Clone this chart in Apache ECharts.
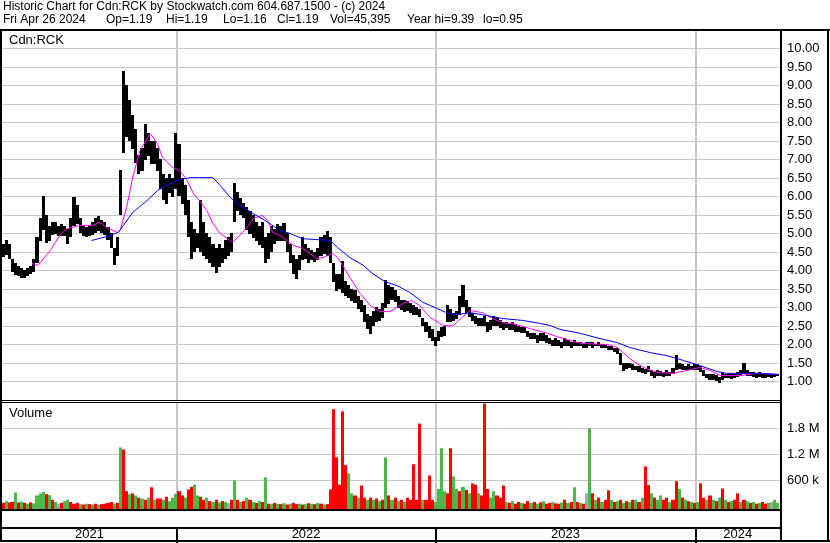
<!DOCTYPE html>
<html><head><meta charset="utf-8">
<script src="https://cdn.jsdelivr.net/npm/echarts@6/dist/echarts.min.js"></script>
<style>html,body{margin:0;padding:0;background:#fff}#c{width:830px;height:543px}</style>
</head><body><div id="c"></div><script>
// ---------- DATA ----------
const N_DAYS = 756;           // trading days shown
const STEP = 3;               // days per sampled bar
const yearStarts = [170, 421, 674];
const yearLabels = ['2021', '2022', '2023', '2024'];

const headerTitle = 'Historic Chart for Cdn:RCK by Stockwatch.com 604.687.1500 - (c) 2024';
const headerFields = ['Fri Apr 26 2024', 'Op=1.19', 'Hi=1.19', 'Lo=1.16', 'Cl=1.19', 'Vol=45,395', 'Year hi=9.39', 'lo=0.95'];

const priceHigh = [
 4.7,4.8,4.7,4.3,4.2,4.1,4.05,4.0,4.05,4.1,
 4.3,4.9,5.4,6.0,5.5,5.2,5.3,5.3,5.2,5.25,
 5.2,5.1,5.4,5.97,5.75,5.4,5.2,5.15,5.2,5.3,
 5.4,5.45,5.35,5.3,5.15,5.0,4.6,4.9,6.7,9.39,
 9.0,8.6,8.2,7.8,7.1,7.3,7.95,7.7,7.5,7.5,
 7.3,7.0,6.6,6.5,6.6,6.5,7.7,7.4,6.5,6.3,
 5.9,5.3,5.1,5.0,5.9,5.3,5.0,4.9,4.7,4.6,
 4.7,4.6,4.8,4.9,5.0,6.35,6.1,5.95,5.8,5.7,
 5.6,5.5,5.3,5.2,5.3,4.9,5.0,5.2,5.1,5.25,
 5.2,5.28,5.0,4.7,4.4,4.3,4.4,4.9,4.7,4.6,
 4.55,4.5,4.6,4.9,4.95,5.05,4.9,4.2,3.9,3.9,
 4.25,3.7,3.6,3.5,3.45,3.3,3.2,3.05,2.8,2.75,
 2.9,3.0,2.95,3.1,3.73,3.6,3.55,3.45,3.3,3.2,
 3.2,3.15,3.1,3.05,3.0,2.95,2.7,2.6,2.5,2.4,
 2.2,2.35,2.45,2.5,3.05,2.95,2.85,2.9,3.3,3.59,
 3.2,3.0,2.85,2.75,2.7,2.7,2.75,2.6,2.65,2.75,
 2.7,2.65,2.6,2.6,2.55,2.6,2.55,2.5,2.45,2.45,
 2.35,2.3,2.3,2.25,2.3,2.3,2.25,2.15,2.1,2.15,
 2.1,2.05,2.15,2.1,2.05,2.1,2.05,2.05,2.0,2.05,
 2.05,2.05,2.0,2.05,2.0,2.0,1.95,1.95,1.9,1.9,
 1.75,1.5,1.5,1.48,1.45,1.4,1.4,1.35,1.32,1.4,
 1.3,1.25,1.3,1.28,1.25,1.3,1.25,1.35,1.7,1.5,
 1.45,1.4,1.45,1.4,1.45,1.45,1.4,1.3,1.2,1.2,
 1.2,1.15,1.1,1.25,1.2,1.22,1.2,1.2,1.25,1.3,
 1.49,1.3,1.25,1.25,1.22,1.25,1.2,1.22,1.2,1.2,1.2,1.19
];
const priceLow = [
 4.35,4.4,4.3,3.95,3.9,3.85,3.8,3.8,3.85,3.9,
 3.95,4.2,4.8,5.1,4.75,4.8,4.95,5.0,4.95,4.95,
 4.95,4.7,4.9,5.2,5.25,5.0,4.95,4.9,4.95,4.95,
 5.0,5.05,5.0,4.95,4.8,4.6,4.15,4.4,5.5,7.2,
 7.6,7.5,7.3,6.9,6.6,6.7,7.0,7.1,6.9,6.9,
 6.7,6.2,5.9,5.8,6.1,6.0,6.2,6.0,5.8,5.5,
 4.9,4.3,4.5,4.6,4.5,4.4,4.3,4.2,4.1,3.95,
 4.1,4.2,4.3,4.4,4.5,5.3,5.6,5.5,5.4,5.1,
 5.0,4.9,4.8,4.7,4.6,4.2,4.3,4.5,4.7,4.8,
 4.8,4.8,4.5,4.2,3.9,3.76,4.0,4.3,4.3,4.2,
 4.3,4.25,4.3,4.4,4.45,4.4,4.2,3.7,3.45,3.5,
 3.4,3.3,3.25,3.2,3.1,2.95,2.9,2.6,2.4,2.27,
 2.5,2.6,2.65,2.7,3.0,3.1,3.2,3.15,3.0,2.95,
 2.9,2.9,2.85,2.8,2.8,2.75,2.5,2.35,2.2,2.1,
 1.97,2.1,2.2,2.25,2.6,2.6,2.65,2.7,2.8,3.0,
 2.85,2.75,2.65,2.55,2.5,2.5,2.5,2.35,2.4,2.5,
 2.5,2.45,2.4,2.45,2.4,2.4,2.35,2.35,2.3,2.3,
 2.2,2.15,2.15,2.05,2.1,2.1,2.05,2.0,1.95,1.95,
 1.95,1.9,1.95,1.95,1.9,1.95,1.95,1.95,1.9,1.9,
 1.95,1.9,1.95,1.95,1.9,1.9,1.85,1.85,1.8,1.75,
 1.45,1.3,1.35,1.35,1.3,1.3,1.25,1.22,1.2,1.25,
 1.15,1.11,1.15,1.15,1.12,1.15,1.15,1.2,1.3,1.35,
 1.3,1.3,1.3,1.3,1.3,1.3,1.25,1.15,1.1,1.05,
 1.05,1.0,0.95,1.05,1.1,1.1,1.08,1.1,1.12,1.15,
 1.2,1.15,1.15,1.12,1.1,1.12,1.1,1.1,1.12,1.1,1.12,1.16
];
// volume in thousands of shares
const volume = [
 80,120,90,100,320,90,110,80,60,90,
 70,250,300,330,280,260,150,100,60,80,
 120,150,100,60,80,50,40,60,50,40,
 60,40,50,60,80,100,60,80,1360,1310,
 350,280,300,250,200,180,150,200,440,150,
 180,180,150,220,120,200,290,350,250,200,
 390,450,500,250,220,150,200,120,100,150,
 90,120,100,80,150,600,150,100,120,200,
 150,100,80,120,100,670,60,50,80,60,
 50,70,40,60,80,50,60,40,50,70,
 60,50,80,60,40,50,390,2240,1130,500,
 2190,950,760,300,250,200,480,200,150,200,
 150,180,120,150,1130,250,150,200,120,150,
 100,200,150,970,150,1910,150,150,710,150,
 100,400,1340,350,300,1340,690,400,350,450,
 380,300,530,500,300,250,2370,400,200,350,
 250,200,480,100,80,120,60,100,80,60,
 120,80,100,60,90,120,60,80,100,70,
 60,90,150,80,100,440,100,80,60,300,
 1800,300,150,200,100,150,370,150,100,120,
 150,80,120,100,150,150,100,200,920,490,
 300,200,150,250,150,200,100,150,580,400,
 200,150,120,100,80,100,530,200,150,250,
 150,120,200,410,150,100,120,150,300,100,
 150,120,80,100,60,80,100,60,80,100,150,80
];
// u = up day (green), d = down day (red), n = unchanged (grey)
const volDir =
 'duddududud uuuududund uudddududu duddddudud dududududu ' +
 'dduduuuddu dduuddudud udundududu dududududu dududdudud ' +
 'udududdddd dduududdud ududududud uddddduddd uuuudduudu ' +
 'dudduddduu dddududdud dudududdud dududududn udududdudu ' +
 'dududududd uduudduddu dudududdud ududududdu dudududdunuu';

const maFastDays = [29,35,47,56,63,76,88,95,102,112,115,121,127,134,144,151,156,166,173,180,186,192,199,205,212,219,224,231,238,244,253,258,263,270,283,292,299,306,312,321,326,331,338,348,358,367,377,390,398,406,416,429,438,447,455,467,477,487,500,513,530,542,562,588,598,610,620,630,639,652,666,678,688,698,717,734,755];
const maFastValues = [4.19,4.14,4.54,4.95,5.13,5.22,5.22,5.3,5.16,5.03,5.1,5.7,6.51,7.24,7.7,7.43,7.05,6.78,6.7,6.43,6.08,5.89,5.62,5.27,5.0,4.86,4.76,4.95,5.16,5.4,5.49,5.35,5.03,4.95,4.68,4.6,4.46,4.32,4.35,4.46,4.35,4.14,3.81,3.38,3.05,2.89,2.89,3.11,3.19,3.05,2.73,2.51,2.5,2.73,2.92,2.86,2.7,2.59,2.54,2.43,2.3,2.19,2.03,2.0,1.92,1.62,1.43,1.3,1.24,1.22,1.3,1.38,1.3,1.16,1.16,1.22,1.19];
const maSlowDays = [87,102,113,118,127,141,151,160,173,183,192,205,212,222,231,244,258,270,280,292,319,326,338,351,360,372,384,396,409,423,432,442,455,471,487,506,523,533,542,562,581,598,610,630,646,662,678,695,704,724,739,755];
const maSlowValues = [4.81,4.92,5.03,5.22,5.57,5.89,6.16,6.3,6.46,6.51,6.51,6.51,6.3,5.97,5.76,5.54,5.31,5.08,5.0,4.86,4.81,4.62,4.35,4.14,3.92,3.7,3.59,3.41,3.14,2.97,2.86,2.81,2.86,2.78,2.7,2.65,2.57,2.51,2.41,2.3,2.16,2.05,1.92,1.78,1.7,1.57,1.43,1.27,1.22,1.22,1.22,1.19];

const priceTickMin = 0.5, priceTickMax = 10.5, priceTickStep = 0.5;
const volTicks = [600000, 1200000, 1800000];
const volTickLabels = ['600 k', '1.2 M', '1.8 M'];
const VOL_MIN = -62000, VOL_MAX = 2384000;

// ---------- BUILD ----------
const FONT = '"Liberation Sans", Arial, sans-serif';
const GRID = '#c8c8c8';
const dirCode = { u: 1, d: -1, n: 0 };
const dirs = volDir.replace(/\s/g, '');
const priceData = priceHigh.map((h, i) => [i * STEP + 1, h, priceLow[i]]);
const volData = volume.map((v, i) => [i * STEP + 1, v * 1000, dirCode[dirs[i]]]);
const maFast = maFastDays.map((d, i) => [d, maFastValues[i]]);
const maSlow = maSlowDays.map((d, i) => [d, maSlowValues[i]]);
const bounds = [0].concat(yearStarts, [N_DAYS]);
const yearCenters = yearLabels.map((_, i) => (bounds[i] + bounds[i + 1]) / 2);
const volColors = { '1': '#4cb84c', '-1': '#ff0000', '0': '#a8a8a8' };

const txt = (s, x, y, fs) => ({ text: s, left: x, top: y, padding: 0,
  textStyle: { fontSize: fs || 13, fontWeight: 'normal', color: '#000', fontFamily: FONT } });
const fieldX = [3, 106, 166, 223, 277, 330, 407, 483];

const blackLine = (x1, y1, x2, y2, w) => ({ type: 'line', silent: true, z: 100,
  shape: { x1, y1, x2, y2 }, style: { stroke: '#000', lineWidth: w } });

const hiddenX = (g) => ({
  type: 'value', gridIndex: g, min: 0, max: N_DAYS,
  axisLine: { show: false }, axisLabel: { show: false },
  axisTick: { show: false, customValues: yearStarts },
  splitLine: { show: true, lineStyle: { color: GRID, width: 2 } }
});

// contiguous column for a sampled bar: from its own pixel to the next sample's pixel
const column = (api, d) => {
  const a = Math.round(api.coord([d - STEP / 2, 0])[0]);
  const b = Math.round(api.coord([d + STEP / 2, 0])[0]);
  return [a, Math.max(1, b - a)];
};

const chart = echarts.init(document.getElementById('c'), null, { renderer: 'canvas' });
chart.setOption({
  animation: false,
  backgroundColor: '#fff',
  title: [
    txt(headerTitle, 3, 1, 12),
    ...headerFields.map((s, i) => txt(s, fieldX[i], 14, 12)),
    txt('Cdn:RCK', 9, 34),
    txt('Volume', 9, 407)
  ],
  grid: [
    { left: 2, top: 30, width: 778, height: 370 },
    { left: 2, top: 403, width: 778, height: 106 },
    { left: 2, top: 511, width: 778, height: 16 },
    { left: 2, top: 528, width: 778, height: 13 }
  ],
  xAxis: [
    hiddenX(0),
    hiddenX(1),
    { type: 'value', gridIndex: 2, min: 0, max: N_DAYS, position: 'top',
      axisLine: { show: false }, axisLabel: { show: false }, splitLine: { show: false },
      axisTick: { show: true, inside: true, length: 16, customValues: yearStarts,
        lineStyle: { color: '#000', width: 2 } } },
    { type: 'value', gridIndex: 3, min: 0, max: N_DAYS, position: 'top',
      axisLine: { show: false }, splitLine: { show: false },
      axisTick: { show: true, inside: true, length: 13, customValues: yearStarts,
        lineStyle: { color: '#000', width: 2 } },
      axisLabel: { show: true, inside: true, margin: 0, customValues: yearCenters,
        formatter: v => yearLabels[yearCenters.indexOf(v)] || '',
        fontSize: 13, color: '#000', fontFamily: FONT } }
  ],
  yAxis: [
    { type: 'value', gridIndex: 0, position: 'right', min: priceTickMin, max: priceTickMax,
      interval: priceTickStep,
      axisLine: { show: false }, axisTick: { show: false },
      axisLabel: { formatter: v => v.toFixed(2), showMinLabel: false, showMaxLabel: false,
        margin: 7, fontSize: 13, color: '#000', fontFamily: FONT },
      splitLine: { show: true, lineStyle: { color: GRID, width: 1 } } },
    { type: 'value', gridIndex: 1, position: 'right', min: VOL_MIN, max: VOL_MAX,
      axisLine: { show: false },
      axisTick: { show: false, customValues: volTicks },
      axisLabel: { customValues: volTicks, formatter: v => volTickLabels[volTicks.indexOf(v)] || '',
        margin: 7, fontSize: 13, color: '#000', fontFamily: FONT },
      splitLine: { show: true, lineStyle: { color: GRID, width: 1 } } },
    { type: 'value', gridIndex: 2, show: false },
    { type: 'value', gridIndex: 3, show: false }
  ],
  series: [
    { type: 'custom', name: 'Price', xAxisIndex: 0, yAxisIndex: 0, z: 3,
      data: priceData, encode: { x: 0, y: [1, 2] },
      renderItem: (params, api) => {
        const d = api.value(0);
        const [x, w] = column(api, d);
        const y1 = api.coord([d, api.value(1)])[1];
        const y2 = api.coord([d, api.value(2)])[1];
        return { type: 'rect',
          shape: { x, y: Math.floor(y1), width: w, height: Math.max(1, Math.ceil(y2 - y1)) },
          style: { fill: '#000' } };
      } },
    { type: 'line', name: 'MA fast', xAxisIndex: 0, yAxisIndex: 0, z: 4, data: maFast,
      showSymbol: false, symbol: 'none', lineStyle: { color: '#ff00ff', width: 1 } },
    { type: 'line', name: 'MA slow', xAxisIndex: 0, yAxisIndex: 0, z: 4, data: maSlow,
      showSymbol: false, symbol: 'none', lineStyle: { color: '#0000ff', width: 1 } },
    { type: 'custom', name: 'Volume', xAxisIndex: 1, yAxisIndex: 1, z: 3,
      data: volData, encode: { x: 0, y: 1 },
      renderItem: (params, api) => {
        const d = api.value(0);
        const [x, w] = column(api, d);
        const top = api.coord([d, api.value(1)])[1];
        const base = api.coord([d, VOL_MIN])[1];
        return { type: 'rect',
          shape: { x, y: top, width: w, height: base - top },
          style: { fill: volColors[String(api.value(2))] } };
      } }
  ],
  graphic: [
    blackLine(0, 30, 830, 30, 2),
    blackLine(1, 30, 1, 542, 2),
    blackLine(781, 30, 781, 542, 2),
    blackLine(828, 30, 828, 542, 2),
    blackLine(0, 541, 830, 541, 2),
    blackLine(2, 400.5, 780, 400.5, 1),
    blackLine(2, 402.5, 780, 402.5, 1),
    blackLine(0, 510, 781, 510, 2),
    blackLine(0, 528, 781, 528, 2)
  ]
});
</script></body></html>
